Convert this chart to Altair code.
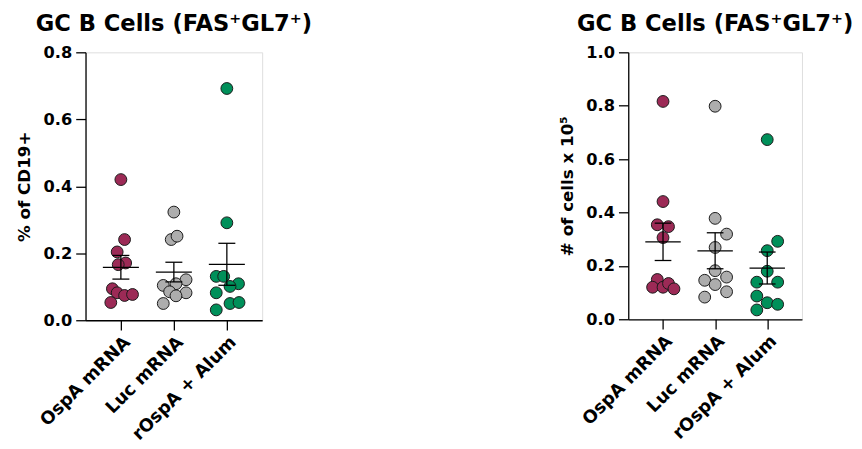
import altair as alt
import pandas as pd

groups = ["OspA mRNA", "Luc mRNA", "rOspA + Alum"]
colors = ["#9C2A56", "#ADADAD", "#00905A"]

# Left panel: % of CD19+
pct_ospa = [0.42, 0.241, 0.204, 0.171, 0.166, 0.094, 0.082, 0.074, 0.077, 0.053]
pct_luc = [0.323, 0.241, 0.251, 0.121, 0.104, 0.109, 0.085, 0.082, 0.073, 0.050]
pct_ralum = [0.692, 0.291, 0.131, 0.131, 0.109, 0.101, 0.082, 0.050, 0.053, 0.031]
pct_jit_ospa = [0.0, 0.07, -0.07, 0.09, -0.05, -0.16, -0.07, 0.07, 0.22, -0.19]
pct_jit_luc = [0.0, -0.05, 0.06, 0.23, -0.2, 0.04, -0.08, 0.23, 0.04, -0.2]
pct_jit_ralum = [0.0, 0.0, -0.2, -0.06, 0.22, 0.06, -0.2, 0.06, 0.23, -0.2]

# Right panel: # of cells x 10^5
cells_ospa = [0.816, 0.441, 0.354, 0.347, 0.306, 0.149, 0.120, 0.120, 0.134, 0.114]
cells_luc = [0.798, 0.378, 0.319, 0.269, 0.182, 0.146, 0.158, 0.130, 0.103, 0.083]
cells_ralum = [0.673, 0.292, 0.257, 0.180, 0.139, 0.139, 0.087, 0.062, 0.056, 0.035]
cells_jit_ospa = [0.0, 0.0, -0.11, 0.105, 0.0, -0.11, -0.2, 0.0, 0.105, 0.21]
cells_jit_luc = [0.0, 0.0, 0.22, 0.0, 0.0, -0.2, 0.22, 0.0, 0.22, -0.2]
cells_jit_ralum = [0.0, 0.2, 0.0, 0.0, -0.2, 0.2, -0.2, 0.0, 0.2, -0.2]

FONT = "DejaVu Sans"
label_expr = " : ".join(
    [f"datum.value == {i} ? '{g}'" for i, g in enumerate(groups[:-1])]
) + f" : '{groups[-1]}'"


def make_df(vals, jits):
    rows = []
    for i, (v, j) in enumerate(zip(vals, jits)):
        for a, b in zip(v, j):
            rows.append({"grp": i, "name": groups[i], "val": a, "pos": i + b})
    return pd.DataFrame(rows)


def panel(df, ytitle, ymax, w, h, toff):
    xscale = alt.Scale(domain=[-0.667, 2.667], nice=False, zero=False)
    yscale = alt.Scale(domain=[0, ymax], nice=False)
    xaxis = alt.Axis(values=[0, 1, 2], labelExpr=label_expr, labelAngle=-45,
                     labelOverlap=False, labelBound=False,
                     title=None, grid=False, tickSize=10, labelPadding=3,
                     labelFontSize=18, labelFont=FONT, labelFontWeight="bold",
                     labelColor="black", domainColor="black", tickColor="black",
                     domainWidth=1.3, tickWidth=1.3)
    yaxis = alt.Axis(values=[round(0.2 * k, 1) for k in range(int(ymax / 0.2 + 1.5))],
                     format=".1f", title=ytitle, grid=False, tickSize=10,
                     labelPadding=4, labelFontSize=16.5, labelFont=FONT,
                     labelFontWeight="bold", labelColor="black",
                     titleFont=FONT, titleFontSize=17, titleFontWeight="bold",
                     titleColor="black", titlePadding=10,
                     domainColor="black", tickColor="black",
                     domainWidth=1.3, tickWidth=1.3)
    base = alt.Chart(df)
    pts = base.mark_circle(size=145, opacity=1, stroke="#1a1a1a", strokeWidth=1).encode(
        x=alt.X("pos:Q", scale=xscale, axis=xaxis),
        y=alt.Y("val:Q", scale=yscale, axis=yaxis),
        fill=alt.Fill("name:N", scale=alt.Scale(domain=groups, range=colors), legend=None),
    )
    stats = base.transform_aggregate(
        m="mean(val)", se="stderr(val)", groupby=["grp"]
    ).transform_calculate(
        lo="datum.m - datum.se", hi="datum.m + datum.se",
        ml="datum.grp - 0.34", mr="datum.grp + 0.34",
        cl="datum.grp - 0.16", cr="datum.grp + 0.16",
    )
    rk = dict(color="black", strokeWidth=1.3)
    mean_rule = stats.mark_rule(**rk).encode(
        x=alt.X("ml:Q", scale=xscale), x2="mr:Q", y=alt.Y("m:Q", scale=yscale))
    vbar = stats.mark_rule(**rk).encode(
        x=alt.X("grp:Q", scale=xscale), y=alt.Y("lo:Q", scale=yscale), y2="hi:Q")
    cap_hi = stats.mark_rule(**rk).encode(
        x=alt.X("cl:Q", scale=xscale), x2="cr:Q", y=alt.Y("hi:Q", scale=yscale))
    cap_lo = stats.mark_rule(**rk).encode(
        x=alt.X("cl:Q", scale=xscale), x2="cr:Q", y=alt.Y("lo:Q", scale=yscale))
    return alt.layer(pts, mean_rule, vbar, cap_hi, cap_lo).properties(
        width=w, height=h,
        title=alt.TitleParams("GC B Cells (FAS\u207aGL7\u207a)", font=FONT, fontSize=23,
                              fontWeight="bold", color="black", anchor="middle",
                              offset=toff),
    )


left = panel(make_df([pct_ospa, pct_luc, pct_ralum],
                     [pct_jit_ospa, pct_jit_luc, pct_jit_ralum]),
             "% of CD19+", 0.8, 180, 273, 9)
right = panel(make_df([cells_ospa, cells_luc, cells_ralum],
                      [cells_jit_ospa, cells_jit_luc, cells_jit_ralum]),
              "# of cells x 10\u2075", 1.0, 177, 272, 9)

chart = alt.hconcat(left, right, spacing=249).configure_view(stroke=None).configure(
    background="white", padding={"left": 7, "top": 0, "right": 0, "bottom": 0})

chart.save("out.html", embed_options={"renderer": "svg", "actions": False})
